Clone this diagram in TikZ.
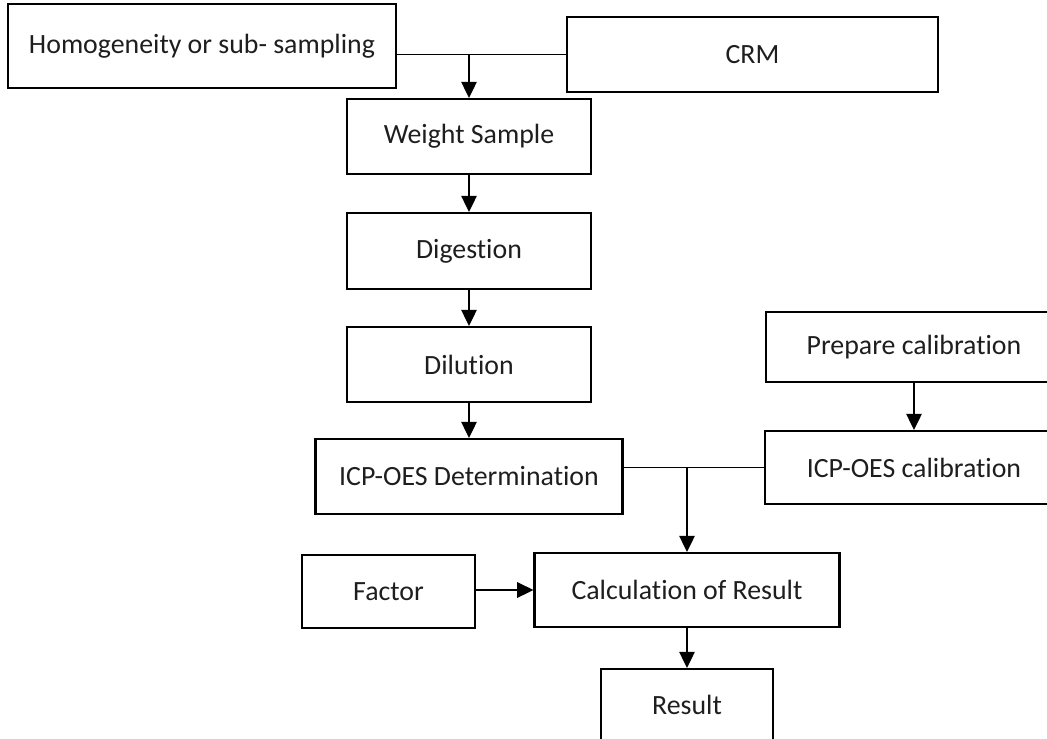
\documentclass[tikz,border=0pt]{standalone}
\usepackage{fontspec}
\setmainfont{Carlito}[Ligatures=NoCommon]
\usetikzlibrary{positioning, arrows.meta}
\definecolor{flowline}{HTML}{000000}
\definecolor{flowtext}{HTML}{1E1E1E}

\begin{document}
\begin{tikzpicture}[x=0.025cm, y=-0.025cm,
  font=\fontsize{19.8}{23}\selectfont,
  box/.style={draw=flowline, line width=1.5pt, inner sep=0pt, text=flowtext},
  flow/.style={draw=flowline, line width=1.2pt, -{Triangle[width=11pt, length=11.5pt]}},
  link/.style={draw=flowline, line width=1.2pt}]
\useasboundingbox (0,0) rectangle (1047,738);
\clip (0,0) rectangle (1047,738);

\node[box, minimum width=9.7cm, minimum height=2.1cm] (homog) at (202,46) {Homogeneity or sub- sampling};
\node[box, minimum width=9.275cm, minimum height=1.875cm] (crm) at (752.5,54.5) {CRM};
\node[box, minimum width=6.1cm, minimum height=1.875cm] (weight) at (469,136.5) {Weight Sample};
\node[box, minimum width=6.1cm, minimum height=1.9cm] (digest) at (469,251) {Digestion};
\node[box, minimum width=6.1cm, minimum height=1.875cm] (dilut) at (469,364.5) {Dilution};
\node[box, minimum width=7.675cm, minimum height=1.875cm] (icpdet) at (469,476.5) {ICP-OES Determination};
\node[box, minimum width=7.4cm, minimum height=1.75cm] (prep) at (914,347) {Prepare calibration};
\node[box, minimum width=7.45cm, minimum height=1.825cm] (icpcal) at (914,467.5) {ICP-OES calibration};
\node[box, minimum width=4.325cm, minimum height=1.825cm] (factor) at (388.5,591.5) {Factor};
\node[box, minimum width=7.625cm, minimum height=1.85cm] (calc) at (687,590) {Calculation of Result};
\node[box, minimum width=4.3cm, minimum height=1.8cm] (result) at (687,705) {Result};

\coordinate (topjoin) at (weight.north |- crm.west);
\coordinate (midjoin) at (calc.north |- icpcal.west);

\draw[link] (crm.west -| homog.east) -- (crm.west);
\draw[flow] (topjoin) -- (weight.north);
\draw[flow] (weight) -- (digest);
\draw[flow] (digest) -- (dilut);
\draw[flow] (dilut) -- (icpdet);
\draw[flow] (prep) -- (icpcal);
\draw[link] (icpcal.west -| icpdet.east) -- (icpcal.west);
\draw[flow] (midjoin) -- (calc.north);
\draw[flow] (factor.east |- calc.west) -- (calc.west);
\draw[flow] (calc) -- (result);
\end{tikzpicture}
\end{document}
